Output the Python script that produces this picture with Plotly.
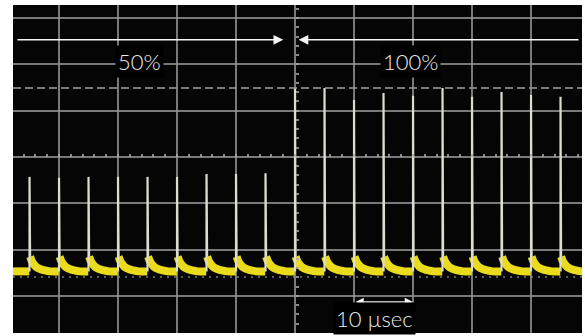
import plotly.graph_objects as go

# ---- data (x in µsec, y in screen divisions) ----
pulse_t_50 = [-45, -40, -35, -30, -25, -20, -15, -10, -5]
peak_50 = [-0.43, -0.45, -0.43, -0.43, -0.43, -0.43, -0.37, -0.37, -0.35]
pulse_t_100 = [0, 5, 10, 15, 20, 25, 30, 35, 40, 45]
peak_100 = [1.49, 1.49, 1.23, 1.38, 1.32, 1.49, 1.30, 1.40, 1.34, 1.30]
baseline = -2.47
# decay tail after each spike (time after spike, rise above baseline)
tail_dt = [0.1, 0.4, 0.8, 1.3, 1.9, 2.6, 3.5]
tail_rise = [0.32, 0.22, 0.14, 0.08, 0.045, 0.02, 0.0]
level_100 = 1.49      # dashed cursor line
trigger_level = -2.59  # dotted marker line
x_start, x_end = -47.8, 48.64
y_bottom, y_top = -3.80, 3.28

pulse_t = pulse_t_50 + pulse_t_100
peaks = peak_50 + peak_100

# yellow trace: baseline + tails (one segment per pulse period)
yx, yy = [x_start, pulse_t[0] - 0.05, None], [baseline, baseline, None]
for i, t in enumerate(pulse_t):
    nxt = pulse_t[i + 1] - 0.05 if i + 1 < len(pulse_t) else x_end
    for dt, r in zip(tail_dt, tail_rise):
        yx.append(t + dt); yy.append(baseline + r)
    yx += [nxt, None]; yy += [baseline, None]

# spikes
sx, sy = [], []
for t, p in zip(pulse_t, peaks):
    sx += [t, t, t + tail_dt[0], None]
    sy += [baseline, p, baseline + tail_rise[0], None]

fig = go.Figure()
fig.add_trace(go.Scatter(x=yx, y=yy, mode="lines",
                         line=dict(color="#eadb1c", width=8, shape="spline", smoothing=0.4),
                         hoverinfo="skip", showlegend=False))
fig.add_trace(go.Scatter(x=sx, y=sy, mode="lines",
                         line=dict(color="#dcdcd0", width=2.2),
                         hoverinfo="skip", showlegend=False))

grid = "rgba(150,150,150,0.8)"
fig.add_hline(y=level_100, line=dict(color=grid, width=2, dash="8px,4px"))
fig.add_hline(y=trigger_level, line=dict(color="rgba(150,150,150,0.6)", width=2, dash="2px,5px"))

white = "#f4f4f4"
txt = "#ececec"
font = dict(family="Lato, Open Sans, sans-serif", size=22, color=txt, weight=300)

# 50% / 100% arrows
fig.add_annotation(x=-2.0, y=2.53, ax=-47.3, ay=2.53, axref="x", ayref="y",
                   text="", showarrow=True, arrowhead=2, arrowsize=1.3,
                   arrowwidth=1.5, arrowcolor=white)
fig.add_annotation(x=0.6, y=2.53, ax=48.3, ay=2.53, axref="x", ayref="y",
                   text="", showarrow=True, arrowhead=2, arrowsize=1.3,
                   arrowwidth=1.5, arrowcolor=white)
fig.add_annotation(x=-26.4, y=2.07, text="50%", showarrow=False, font=font,
                   bgcolor="#000", borderpad=2)
fig.add_annotation(x=19.6, y=2.07, text="100%", showarrow=False, font=font,
                   bgcolor="#000", borderpad=2)
# 10 µsec scale
fig.add_annotation(x=20, y=-3.13, ax=10, ay=-3.13, axref="x", ayref="y",
                   text="", showarrow=True, arrowhead=2, arrowside="end+start",
                   arrowsize=1.1, arrowwidth=1.5, arrowcolor=white)
fig.add_annotation(x=13.4, y=-3.48, text="10 µsec", showarrow=False, font=font,
                   bgcolor="#000", borderpad=2)

fig.update_layout(
    width=585, height=336,
    margin=dict(l=13, r=3, t=5, b=3, autoexpand=False),
    paper_bgcolor="white", plot_bgcolor="#050505",
    xaxis=dict(range=[x_start, x_end], dtick=10, tick0=0, showgrid=True,
               gridcolor=grid, gridwidth=2, zeroline=False,
               showticklabels=False, ticks=""),
    yaxis=dict(range=[y_bottom, y_top], dtick=1, tick0=0, showgrid=True,
               gridcolor=grid, gridwidth=2, zeroline=False,
               showticklabels=False, ticks=""),
    xaxis2=dict(overlaying="x", matches="x", anchor="free",
                position=(0 - y_bottom) / (y_top - y_bottom),
                dtick=2, tick0=0, ticks="inside", ticklen=3, tickwidth=2,
                tickcolor="rgba(170,170,170,0.8)", showgrid=False,
                zeroline=False, showticklabels=False, showline=False),
    yaxis2=dict(overlaying="y", matches="y", anchor="free",
                position=(0 - x_start) / (x_end - x_start),
                dtick=0.2, tick0=0, ticks="inside", ticklen=3, tickwidth=2,
                tickcolor="rgba(170,170,170,0.8)", showgrid=False,
                zeroline=False, showticklabels=False, showline=False),
    showlegend=False,
)
# dummy trace to activate center tick axes
fig.add_trace(go.Scatter(x=[None], y=[None], xaxis="x2", yaxis="y2",
                         showlegend=False, hoverinfo="skip"))

fig.write_html("out.html", config={"displayModeBar": False},
               post_script="document.body.style.margin='0';document.body.style.overflow='hidden';")
